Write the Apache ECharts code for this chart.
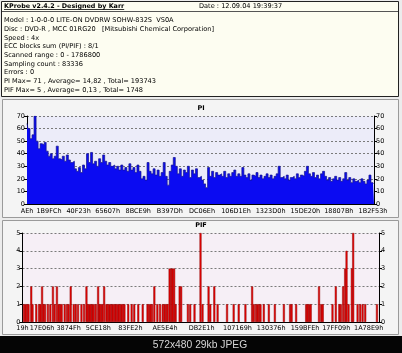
<!DOCTYPE html>
<html>
<head>
<meta charset="utf-8">
<title>KProbe PI / PIF</title>
<script src="https://cdn.jsdelivr.net/npm/echarts@6/dist/echarts.min.js"></script>
<style>
    html, body { margin: 0; padding: 0; background: #ececec; }
    #chart { width: 402px; height: 353px; }
</style>
</head>
<body>
<div id="chart"></div>
<script>
// header text of the KProbe report
const INFO_TITLE = 'KProbe v2.4.2 - Designed by Karr';
const INFO_DATE = 'Date : 12.09.04 19:39:37';
const INFO_LINES = [
    'Model : 1-0-0-0 LITE-ON DVDRW SOHW-832S  VS0A',
    'Disc : DVD-R , MCC 01RG20   [Mitsubishi Chemical Corporation]',
    'Speed : 4x',
    'ECC blocks sum (PI/PIF) : 8/1',
    'Scanned range : 0 - 1786800',
    'Sampling count : 83336',
    'Errors : 0',
    'PI Max= 71 , Average= 14,82 , Total= 193743',
    'PIF Max= 5 , Average= 0,13 , Total= 1748'
];
const FOOTER = '572x480 29kb JPEG';

const LBA_MAX = 1786800;

// PI samples, left to right
const PI_VALUES = [
    64, 60, 52, 55, 70, 50, 44, 48, 47, 49,
    42, 38, 40, 36, 38, 46, 36, 35, 38, 34,
    39, 35, 33, 34, 28, 26, 29, 25, 31, 28,
    40, 33, 41, 32, 34, 30, 36, 33, 39, 34,
    31, 33, 30, 31, 28, 30, 27, 31, 27, 29,
    26, 32, 27, 29, 25, 31, 26, 20, 22, 19,
    33, 26, 24, 28, 23, 27, 22, 25, 33, 22,
    15, 26, 31, 37, 30, 24, 28, 22, 27, 25,
    30, 21, 27, 24, 28, 21, 22, 19, 16, 13,
    29, 22, 26, 21, 25, 23, 24, 22, 26, 21,
    24, 22, 25, 27, 22, 24, 22, 29, 23, 21,
    24, 19, 23, 22, 25, 21, 23, 20, 22, 24,
    21, 23, 20, 22, 24, 30, 21, 22, 20, 23,
    19, 21, 22, 20, 24, 21, 23, 22, 26, 30,
    24, 22, 25, 21, 23, 20, 24, 26, 22, 19,
    21, 18, 20, 22, 19, 21, 18, 20, 25, 19,
    21, 17, 20, 18, 19, 17, 20, 18, 16, 19,
    23, 17, 16
];
const PI_TICKS = ['AE', '1B9FC', '40F23', '65607', '8BCE9', 'B397D', 'DC06E', '106D1E', '1323D0', '15DE20', '18807B', '1B2F53'];

// PIF hits: [LBA, count]
const PIF_HITS = [
    [7500, 1], [15100, 1], [22600, 1], [30200, 1], [43800, 2], [50300, 1], [69000, 1],
    [83000, 1], [90600, 1], [98100, 2], [105700, 1], [113200, 1], [127300, 1], [139400, 1],
    [152500, 2], [161100, 1], [172600, 2], [181200, 1], [188700, 1], [196300, 1],
    [211400, 1], [223000, 1], [231500, 1], [241600, 2],
    [256700, 1], [266700, 1], [278300, 1], [295400, 1], [308500, 1],
    [320600, 2], [327100, 1], [334700, 1], [342200, 1], [349800, 1], [357300, 1],
    [367400, 1], [379000, 2], [385000, 1], [392600, 1], [400100, 1], [409200, 2],
    [420300, 1], [427800, 1], [435400, 1], [442900, 1], [450500, 1], [458000, 1], [465600, 1],
    [473100, 1], [480700, 1], [488200, 1], [495800, 1], [503300, 1], [510800, 1],
    [530000, 1], [547100, 1], [560200, 1], [580300, 1], [602500, 1],
    [626600, 1], [634200, 1], [641700, 1], [649300, 1], [660800, 2],
    [675900, 1], [689500, 1], [703100, 1], [712200, 1], [719700, 1], [727300, 1],
    [737300, 3], [744900, 3], [752400, 3], [760000, 3], [767500, 1], [787700, 2], [795200, 2],
    [828900, 1], [840500, 1], [862200, 1], [892300, 5], [902400, 1], [932600, 2], [941200, 1],
    [961300, 2], [977900, 1], [1025200, 1], [1058400, 1], [1083600, 1], [1117300, 1],
    [1151000, 2], [1159100, 1], [1170200, 1], [1177700, 1], [1185300, 1], [1192800, 1],
    [1209400, 1], [1234600, 1], [1264800, 1], [1310100, 1], [1341300, 1], [1348800, 1],
    [1371500, 1], [1421800, 1], [1429400, 1], [1436900, 1], [1444500, 1], [1486200, 2],
    [1497300, 1], [1504900, 1], [1553700, 1], [1570300, 2], [1587900, 1], [1595500, 1],
    [1607000, 2], [1617100, 3], [1624100, 4], [1634200, 1], [1650800, 3], [1657400, 5],
    [1679500, 1], [1692600, 1], [1704700, 1], [1717800, 1], [1776600, 1]
];
const PIF_TICKS = ['19', '17E06', '3874F', '5CE18', '83FE2', 'AE5E4', 'DB2E1', '107169', '130376', '159BFE', '17FF09', '1A78E9'];

const FONT = 'DejaVu Sans';
const hexLabel = v => Math.round(v).toString(16).toUpperCase() + 'h';

function measure(text, font) {
    let ctx = document.createElement('canvas').getContext('2d');
    ctx.font = font;
    return ctx.measureText(text).width;
}

function yAxes(gridIndex, max, interval) {
    let base = {
        gridIndex: gridIndex,
        type: 'value',
        min: 0,
        max: max,
        interval: interval,
        axisLine: { show: true, lineStyle: { color: '#000', width: 1 } },
        axisTick: { show: true, length: 3, lineStyle: { color: '#000' } },
        axisLabel: { fontSize: 6.5, fontFamily: FONT, color: '#000', margin: 2 }
    };
    return [
        Object.assign({}, base, {
            position: 'left',
            splitLine: { show: true, lineStyle: { color: '#7a7a7a', type: [2, 2], width: 1 } }
        }),
        Object.assign({}, base, { position: 'right', splitLine: { show: false } })
    ];
}

function draw() {
    let myChart = echarts.init(document.getElementById('chart'), null, { renderer: 'canvas' });

    let infoFont = '6.6px "' + FONT + '"';
    let titleFont = 'bold 6.4px "' + FONT + '"';
    let titleW = measure(INFO_TITLE, titleFont);

    let graphics = [
        // panels
        { type: 'rect', z: -10, shape: { x: 1.5, y: 1.5, width: 397, height: 95 }, style: { fill: '#fdfdf1', stroke: '#222', lineWidth: 1 } },
        { type: 'line', z: -9, shape: { x1: 2, y1: 11.5, x2: 398, y2: 11.5 }, style: { stroke: '#555', lineWidth: 1 } },
        { type: 'rect', z: -10, shape: { x: 2.5, y: 99.5, width: 396, height: 118 }, style: { fill: '#f4f4f4', stroke: '#9a9a9a', lineWidth: 1 } },
        { type: 'rect', z: -10, shape: { x: 2.5, y: 220.5, width: 396, height: 114 }, style: { fill: '#f4f4f4', stroke: '#9a9a9a', lineWidth: 1 } },
        { type: 'rect', z: -10, shape: { x: 0, y: 336, width: 402, height: 17 }, style: { fill: '#050505' } },
        // header
        { type: 'text', z: 10, x: 4, y: 6, style: { text: INFO_TITLE, font: titleFont, fill: '#000', verticalAlign: 'middle' } },
        { type: 'line', z: 10, shape: { x1: 4, y1: 9.5, x2: 4 + titleW, y2: 9.5 }, style: { stroke: '#000', lineWidth: 0.8 } },
        { type: 'text', z: 10, x: 199, y: 6, style: { text: INFO_DATE, font: infoFont, fill: '#000', verticalAlign: 'middle' } },
        { type: 'text', z: 10, x: 200, y: 345, style: { text: FOOTER, font: '10.3px "Liberation Sans"', fill: '#d6d6d6', align: 'center', verticalAlign: 'middle' } }
    ];
    INFO_LINES.forEach((line, i) => {
        graphics.push({ type: 'text', z: 10, x: 4, y: 20.7 + i * 8.66, style: { text: line, font: infoFont, fill: '#000', verticalAlign: 'middle' } });
    });

    let option = {
        animation: false,
        backgroundColor: '#ececec',
        title: [
            { text: 'PI', left: 'center', top: 105, padding: 0, textStyle: { fontSize: 6.5, fontWeight: 'bold', fontFamily: FONT, color: '#000' } },
            { text: 'PIF', left: 'center', top: 222, padding: 0, textStyle: { fontSize: 6.5, fontWeight: 'bold', fontFamily: FONT, color: '#000' } }
        ],
        grid: [
            { left: 27, top: 116, width: 347, height: 88, show: true, backgroundColor: '#ececf9', borderWidth: 0 },
            { left: 22.5, top: 233, width: 356.5, height: 89, show: true, backgroundColor: '#f6eff6', borderWidth: 0 }
        ],
        xAxis: [
            {
                gridIndex: 0,
                type: 'category',
                boundaryGap: false,
                data: PI_VALUES.map((v, i) => i),
                axisLine: { show: true, lineStyle: { color: '#000' } },
                axisTick: { show: false },
                axisLabel: { show: false }
            },
            {
                gridIndex: 0,
                type: 'value',
                position: 'bottom',
                min: 0,
                max: LBA_MAX,
                axisLine: { show: false },
                axisTick: { show: false },
                splitLine: { show: false },
                axisLabel: {
                    customValues: PI_TICKS.map(h => parseInt(h, 16)),
                    formatter: hexLabel,
                    fontSize: 6.5, fontFamily: FONT, color: '#000', margin: 4
                }
            },
            {
                gridIndex: 1,
                type: 'value',
                min: 0,
                max: LBA_MAX,
                axisLine: { show: true, lineStyle: { color: '#000' } },
                axisTick: { show: false },
                splitLine: { show: false },
                axisLabel: {
                    customValues: PIF_TICKS.map(h => parseInt(h, 16)),
                    formatter: hexLabel,
                    fontSize: 6.5, fontFamily: FONT, color: '#000', margin: 3
                }
            }
        ],
        yAxis: yAxes(0, 70, 10).concat(yAxes(1, 5, 1)),
        series: [
            {
                name: 'PI',
                type: 'line',
                step: 'middle',
                xAxisIndex: 0,
                yAxisIndex: 0,
                data: PI_VALUES,
                symbol: 'none',
                lineStyle: { color: '#14148c', width: 0.7 },
                areaStyle: { color: '#0b0bf2', opacity: 1 }
            },
            {
                name: 'PIF',
                type: 'bar',
                xAxisIndex: 2,
                yAxisIndex: 2,
                data: PIF_HITS,
                barWidth: 2,
                itemStyle: { color: '#ee0000', borderColor: '#8b0a0a', borderWidth: 0.5 }
            }
        ],
        graphic: { elements: graphics }
    };
    myChart.setOption(option);
}

draw();
</script>
</body>
</html>
